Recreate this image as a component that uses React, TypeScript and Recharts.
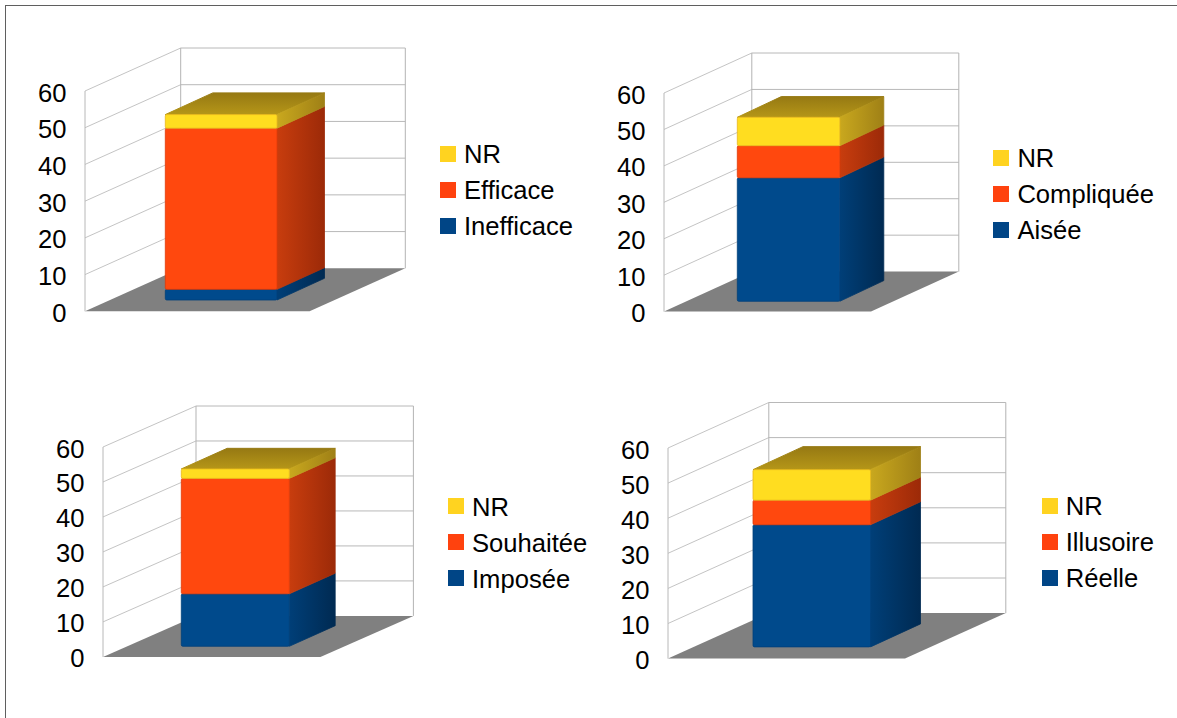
import React from 'react';
import { BarChart, Bar, XAxis, YAxis, Legend, CartesianGrid } from 'recharts';

// Survey answers, one stacked column per question
const EFFICACITE_LABELS = ['Inefficace', 'Efficace', 'NR'];
const EFFICACITE_VALUES = [2.9, 43.9, 3.7];

const DIFFICULTE_LABELS = ['Aisée', 'Compliquée', 'NR'];
const DIFFICULTE_VALUES = [33.9, 8.8, 7.8];

const MOBILITE_LABELS = ['Imposée', 'Souhaitée', 'NR'];
const MOBILITE_VALUES = [15, 33, 2.7];

const AUTONOMIE_LABELS = ['Réelle', 'Illusoire', 'NR'];
const AUTONOMIE_VALUES = [34.8, 7, 8.7];

const AXIS_TICKS = [0, 10, 20, 30, 40, 50, 60];
const SERIES_KEYS = ['bas', 'milieu', 'nr'];

const FONT = '"Liberation Sans", Arial, sans-serif';
const FONT_SIZE = 25.6;
const AXIS_WIDTH = 70;
const TOP_MARGIN = 60;
const CHART_W = 575;
const CHART_H = 330;

// swatch colour, then front, edge, side-near and side-far colours of each segment
const FACE_COLORS = [
    { swatch: '#004586', front: '#004a8c', edge: '#003f7a', near: '#003f78', far: '#002a52' },
    { swatch: '#ff420e', front: '#ff480e', edge: '#e03a08', near: '#c83d0e', far: '#9c2a08' },
    { swatch: '#ffd320', front: '#ffdd20', edge: '#e9b71c', near: '#c9a81e', far: '#9f8016' },
];

const PANELS = [
    {
        labels: EFFICACITE_LABELS, values: EFFICACITE_VALUES,
        left: 85, top: 91, w: 224.6, h: 220.3, depthX: 95.7, depthY: 43,
        barW: 111.7, offX: 24.3, offY: 11.3, barDepthX: 47.5, barDepthY: 21.7,
        legendX: 440, legendY: 145.7,
    },
    {
        labels: DIFFICULTE_LABELS, values: DIFFICULTE_VALUES,
        left: 664, top: 93.4, w: 207, h: 218.6, depthX: 87.8, depthY: 40,
        barW: 102.5, offX: 21.3, offY: 10.3, barDepthX: 44, barDepthY: 20.7,
        legendX: 993.4, legendY: 150,
    },
    {
        labels: MOBILITE_LABELS, values: MOBILITE_VALUES,
        left: 103.1, top: 447.4, w: 217.4, h: 209.9, depthX: 93, depthY: 41,
        barW: 108, offX: 23.3, offY: 10.6, barDepthX: 45.9, barDepthY: 20.6,
        legendX: 448, legendY: 498.3,
    },
    {
        labels: AUTONOMIE_LABELS, values: AUTONOMIE_VALUES,
        left: 668.3, top: 448.4, w: 237, h: 210.6, depthX: 100.8, depthY: 45.5,
        barW: 117.5, offX: 25, offY: 11.7, barDepthX: 50, barDepthY: 23,
        legendX: 1041.7, legendY: 497.7,
    },
];

type Panel = (typeof PANELS)[number];

// grid level drawn as a box interior: floor at the bottom, wall lines above it
const WallLevel = ({ x1, y1, panel }: any) => {
    const { w, h, depthX: dx, depthY: dy } = panel as Panel;
    const x = x1;
    const y = y1;
    const isFloor = Math.abs(y - (TOP_MARGIN + h)) < 1;
    const isCeiling = Math.abs(y - TOP_MARGIN) < 1;
    return (
        <g>
            {isFloor ? (
                <polygon
                    points={`${x},${y} ${x + w},${y} ${x + w + dx},${y - dy} ${x + dx},${y - dy}`}
                    fill="#808080"
                />
            ) : (
                <>
                    <line x1={x} y1={y} x2={x + dx} y2={y - dy} stroke="#c4c4c4" />
                    <line x1={x + dx} y1={y - dy} x2={x + dx + w} y2={y - dy} stroke="#b8b8b8" />
                </>
            )}
            {isCeiling && (
                <>
                    <line x1={x} y1={y} x2={x} y2={y + h} stroke="#b8b8b8" />
                    <line x1={x + dx} y1={y - dy} x2={x + dx} y2={y - dy + h} stroke="#b3b3b3" />
                    <line x1={x + dx + w} y1={y - dy} x2={x + dx + w} y2={y - dy + h} stroke="#b3b3b3" />
                </>
            )}
        </g>
    );
};

const AxisNumber = ({ x, y, payload }: any) => (
    <text x={x - 18.5} y={y + 10.5} textAnchor="end" fontFamily={FONT} fontSize={FONT_SIZE} fill="#000">
        {payload.value}
    </text>
);

// one stacked segment as a box: front face, shaded side, and the lid on the top segment
const BoxSegment = ({ x, y, width, height, index, panelIndex, panel, isTop }: any) => {
    const { offX, offY, barDepthX: dx, barDepthY: dy } = panel as Panel;
    const colors = FACE_COLORS[index];
    const fx = x + offX;
    const fy = y - offY;
    const right = fx + width;
    const bottom = fy + height;
    return (
        <g>
            {isTop && (
                <polygon
                    points={`${fx},${fy} ${right},${fy} ${right + dx},${fy - dy} ${fx + dx},${fy - dy}`}
                    fill={`url(#lid-${panelIndex})`}
                    stroke={`url(#lid-${panelIndex})`}
                    strokeWidth={1}
                    strokeLinejoin="round"
                />
            )}
            <polygon
                points={`${right},${bottom} ${right + dx},${bottom - dy} ${right + dx},${fy - dy} ${right},${fy}`}
                fill={`url(#side-${panelIndex}-${index})`}
                stroke={`url(#side-${panelIndex}-${index})`}
                strokeWidth={0.8}
                strokeLinejoin="round"
            />
            <rect
                x={fx}
                y={fy}
                width={width}
                height={height}
                rx={1.5}
                fill={colors.front}
                stroke={colors.edge}
                strokeWidth={0.8}
            />
        </g>
    );
};

const SwatchLegend = ({ payload, labels }: any) => {
    const order = [...(labels as string[])].reverse();
    const rows = [...(payload ?? [])].sort(
        (a: any, b: any) => order.indexOf(a.value) - order.indexOf(b.value)
    );
    return (
        <div style={{ fontFamily: FONT, fontSize: FONT_SIZE, color: '#000' }}>
            {rows.map((row: any) => (
                <div
                    key={row.value}
                    style={{ display: 'flex', alignItems: 'center', height: 16, marginBottom: 20, whiteSpace: 'nowrap' }}
                >
                    <span style={{ width: 16, height: 16, background: row.color, marginRight: 8, flex: 'none' }} />
                    <span style={{ lineHeight: '17px', position: 'relative', top: 1 }}>{row.value}</span>
                </div>
            ))}
        </div>
    );
};

const StackedBoxChart = ({ panel, panelIndex }: { panel: Panel; panelIndex: number }) => {
    const chartLeft = panel.left - AXIS_WIDTH;
    const chartTop = panel.top - TOP_MARGIN;
    const row: Record<string, string | number> = { name: 'Réponses' };
    SERIES_KEYS.forEach((key, i) => {
        row[key] = panel.values[i];
    });

    return (
        <div style={{ position: 'absolute', left: chartLeft, top: chartTop }}>
            <BarChart
                width={CHART_W}
                height={CHART_H}
                data={[row]}
                barSize={panel.barW}
                margin={{
                    top: TOP_MARGIN,
                    left: 0,
                    right: CHART_W - AXIS_WIDTH - panel.w,
                    bottom: CHART_H - TOP_MARGIN - panel.h,
                }}
            >
                <defs>
                    {FACE_COLORS.map((c, i) => (
                        <linearGradient key={i} id={`side-${panelIndex}-${i}`} x1="0" y1="0" x2="1" y2="0">
                            <stop offset="0%" stopColor={c.near} />
                            <stop offset="100%" stopColor={c.far} />
                        </linearGradient>
                    ))}
                    <linearGradient id={`lid-${panelIndex}`} x1="0" y1="1" x2="0" y2="0">
                        <stop offset="0%" stopColor="#b59618" />
                        <stop offset="100%" stopColor="#967913" />
                    </linearGradient>
                </defs>
                <CartesianGrid
                    vertical={false}
                    horizontal={(props: any) => <WallLevel key={props.key} {...props} panel={panel} />}
                />
                <XAxis dataKey="name" hide />
                <YAxis
                    type="number"
                    domain={[0, 60]}
                    ticks={AXIS_TICKS}
                    interval={0}
                    width={AXIS_WIDTH}
                    axisLine={false}
                    tickLine={false}
                    tickSize={0}
                    tickMargin={0}
                    tick={(props: any) => <AxisNumber {...props} />}
                />
                {SERIES_KEYS.map((key, i) => (
                    <Bar
                        key={key}
                        dataKey={key}
                        name={panel.labels[i]}
                        stackId="reponses"
                        fill={FACE_COLORS[i].swatch}
                        isAnimationActive={false}
                        shape={(props: any) => (
                            <BoxSegment
                                {...props}
                                index={i}
                                panelIndex={panelIndex}
                                panel={panel}
                                isTop={i === SERIES_KEYS.length - 1}
                            />
                        )}
                    />
                ))}
                <Legend
                    layout="vertical"
                    align="center"
                    verticalAlign="middle"
                    wrapperStyle={{
                        left: panel.legendX - chartLeft,
                        top: panel.legendY - chartTop,
                        width: 190,
                    }}
                    content={(props: any) => <SwatchLegend {...props} labels={panel.labels} />}
                />
            </BarChart>
        </div>
    );
};

export default function App() {
    return (
        <div
            style={{
                position: 'absolute',
                left: 0,
                top: 0,
                width: 1177,
                height: 718,
                overflow: 'hidden',
                background: '#fff',
            }}
        >
            {/* sheet frame, runs off the right and bottom edges */}
            <div
                style={{
                    position: 'absolute',
                    left: 5,
                    top: 5,
                    width: 1300,
                    height: 800,
                    border: '1px solid #5f5f5f',
                }}
            />
            {PANELS.map((panel, i) => (
                <StackedBoxChart key={i} panel={panel} panelIndex={i} />
            ))}
        </div>
    );
}
